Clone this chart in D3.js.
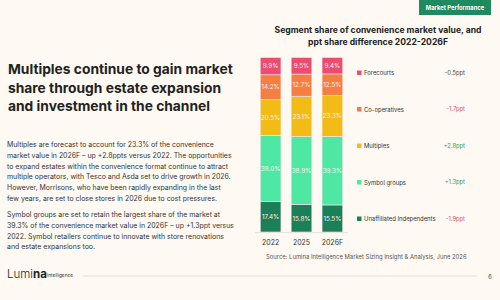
<!DOCTYPE html>
<html>
<head>
<meta charset="utf-8">
<script src="https://cdn.jsdelivr.net/npm/d3@7"></script>
<style>
  body { margin: 0; background: #fefaf3; }
  svg { display: block; font-family: "Inter", "Noto Sans", sans-serif; }
</style>
</head>
<body>
<div id="chart"></div>
<script>
// Chart data
var years = ["2022", "2025", "2026F"];
var segments = ["Unaffiliated Independents", "Symbol groups", "Multiples", "Co-operatives", "Forecourts"];
var unaffiliated = [17.4, 15.8, 15.5];
var symbolGroups = [38.0, 38.9, 39.3];
var multiples = [20.5, 23.1, 23.3];
var coops = [14.2, 12.7, 12.5];
var forecourts = [9.9, 9.5, 9.4];
var pptDiff = ["-1.9ppt", "+1.3ppt", "+2.8ppt", "-1.7ppt", "-0.5ppt"];
var colors = ["#1b7f58", "#4ee8a4", "#f2bb16", "#f57f43", "#ea4c72"];
var diffColors = ["#e24a6a", "#2f9a6c", "#2f9a6c", "#e24a6a", "#444"];

var headline = ["Multiples continue to gain market", "share through estate expansion", "and investment in the channel"];
var para1 = [
  "Multiples are forecast to account for 23.3% of the convenience",
  "market value in 2026F \u2013 up +2.8ppts versus 2022. The opportunities",
  "to expand estates within the convenience format continue to attract",
  "multiple operators, with Tesco and Asda set to drive growth in 2026.",
  "However, Morrisons, who have been rapidly expanding in the last",
  "few years, are set to close stores in 2026 due to cost pressures."
];
var para2 = [
  "Symbol groups are set to retain the largest share of the market at",
  "39.3% of the convenience market value in 2026F \u2013 up +1.3ppt versus",
  "2022. Symbol retailers continue to innovate with store renovations",
  "and estate expansions too."
];

function init() {
    var w = 500, h = 300;

    var svg = d3.select("#chart").append("svg")
        .attr("width", w)
        .attr("height", h);

    svg.append("rect").attr("width", w).attr("height", h).attr("fill", "#fefaf3");

    // top-right tag
    svg.append("rect")
        .attr("x", 419).attr("y", 0).attr("width", 72).attr("height", 15)
        .attr("fill", "#1f8a5f");
    svg.append("text")
        .attr("x", 455).attr("y", 10)
        .attr("text-anchor", "middle")
        .attr("fill", "#fff")
        .attr("font-size", 5.8).attr("font-weight", 700)
        .text("Market Performance");

    // left text
    svg.append("g").selectAll("text").data(headline).join("text")
        .attr("x", 8)
        .attr("y", function(d, i) { return 74 + i * 18.5; })
        .attr("font-size", 13.8).attr("font-weight", 700)
        .attr("fill", "#222")
        .text(function(d) { return d; });

    svg.append("g").selectAll("text").data(para1).join("text")
        .attr("x", 7)
        .attr("y", function(d, i) { return 147 + i * 10.8; })
        .attr("font-size", 6.95)
        .attr("fill", "#333")
        .text(function(d) { return d; });

    svg.append("g").selectAll("text").data(para2).join("text")
        .attr("x", 7)
        .attr("y", function(d, i) { return 217 + i * 10.8; })
        .attr("font-size", 6.95)
        .attr("fill", "#333")
        .text(function(d) { return d; });

    // logo
    var logo = svg.append("text").attr("x", 7).attr("y", 278)
        .attr("fill", "#222").attr("font-size", 11.5);
    logo.append("tspan").attr("font-weight", 300).text("Lumi");
    logo.append("tspan").attr("font-weight", 700).text("na");
    svg.append("text").attr("x", 47).attr("y", 277)
        .attr("font-size", 4.8).attr("fill", "#333").text("Intelligence");

    svg.append("line")
        .attr("x1", 83).attr("x2", 477).attr("y1", 276).attr("y2", 276)
        .attr("stroke", "#ece9e2").attr("stroke-width", 1.5);
    svg.append("text").attr("x", 490).attr("y", 279)
        .attr("font-size", 5.5).attr("fill", "#444").attr("text-anchor", "middle").text("6");

    // chart title
    svg.append("text").attr("x", 378).attr("y", 33)
        .attr("text-anchor", "middle").attr("font-size", 8.6).attr("font-weight", 700)
        .attr("fill", "#222")
        .text("Segment share of convenience market value, and");
    svg.append("text").attr("x", 378).attr("y", 45)
        .attr("text-anchor", "middle").attr("font-size", 8.6).attr("font-weight", 700)
        .attr("fill", "#222")
        .text("ppt share difference 2022-2026F");

    // stacked bars
    var rows = years.map(function(y, i) {
        return {
            year: y,
            "Unaffiliated Independents": unaffiliated[i],
            "Symbol groups": symbolGroups[i],
            "Multiples": multiples[i],
            "Co-operatives": coops[i],
            "Forecourts": forecourts[i]
        };
    });
    var stack = d3.stack().keys(segments)(rows);

    var xScale = d3.scaleBand()
        .domain(years)
        .range([255, 348])
        .paddingInner(0.33)
        .paddingOuter(0.17);

    var yScale = d3.scaleLinear()
        .domain([0, 100])
        .range([232, 57.5]);

    var layer = svg.append("g").selectAll("g").data(stack).join("g")
        .attr("fill", function(d, i) { return colors[i]; });

    layer.selectAll("rect").data(function(d) { return d; }).join("rect")
        .attr("x", function(d) { return xScale(d.data.year); })
        .attr("y", function(d) { return yScale(d[1]); })
        .attr("width", xScale.bandwidth())
        .attr("height", function(d) { return yScale(d[0]) - yScale(d[1]); })
        .attr("stroke", "#fde6ea").attr("stroke-width", 0.6);

    layer.selectAll("text").data(function(d) { return d; }).join("text")
        .attr("x", function(d) { return xScale(d.data.year) + xScale.bandwidth() / 2; })
        .attr("y", function(d) { return (yScale(d[0]) + yScale(d[1])) / 2 + 2.3; })
        .attr("text-anchor", "middle")
        .attr("font-size", 6.3)
        .attr("fill", "#fbeff0")
        .text(function(d) { return (d[1] - d[0]).toFixed(1) + "%"; });

    // baseline + x axis
    var xAxis = d3.axisBottom(xScale).tickSize(0).tickPadding(8);
    var gx = svg.append("g")
        .attr("transform", "translate(0,232)")
        .call(xAxis);
    gx.select(".domain").attr("stroke", "#e6e3dc").attr("d", "M255,0.5H348");
    gx.selectAll("text").attr("font-size", 7).attr("fill", "#333").attr("font-family", "Inter, sans-serif");

    // legend
    var legendY = d3.scalePoint().domain(segments).range([219, 73]);
    var leg = svg.append("g").selectAll("g").data(segments).join("g")
        .attr("transform", function(d) { return "translate(357," + legendY(d) + ")"; });
    leg.append("rect").attr("x", 0).attr("y", -2.5).attr("width", 4.5).attr("height", 4.5)
        .attr("fill", function(d, i) { return colors[i]; });
    leg.append("text").attr("x", 7).attr("y", 2)
        .attr("font-size", 5.9).attr("fill", "#333")
        .text(function(d) { return d; });
    leg.append("text").attr("x", 108).attr("y", 1.5)
        .attr("text-anchor", "end")
        .attr("font-size", 5.8)
        .attr("fill", function(d, i) { return diffColors[i]; })
        .text(function(d, i) { return pptDiff[i]; });

    // source
    svg.append("text").attr("x", 266).attr("y", 259)
        .attr("font-size", 5.9).attr("fill", "#555")
        .text("Source: Lumina Intelligence Market Sizing Insight & Analysis, June 2026");
}

window.onload = init;
</script>
</body>
</html>
